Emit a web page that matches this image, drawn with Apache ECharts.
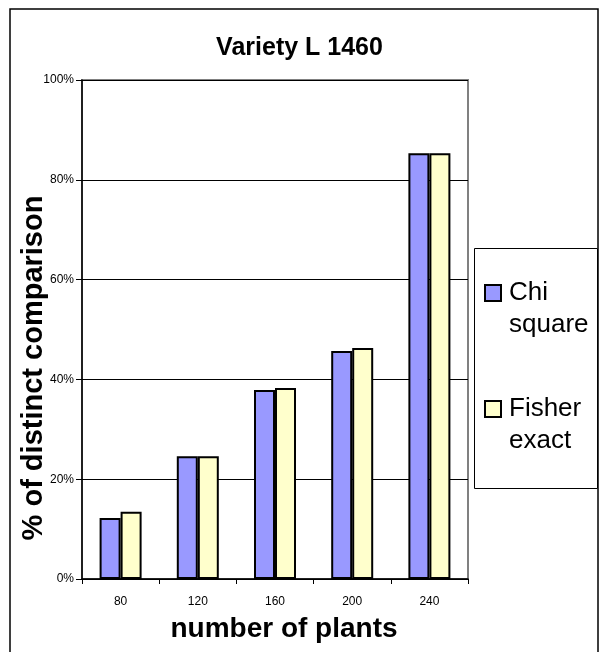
<!DOCTYPE html>
<html>
<head>
<meta charset="utf-8">
<script src="https://cdn.jsdelivr.net/npm/echarts@6/dist/echarts.min.js"></script>
<style>
  html, body { margin: 0; padding: 0; background: #fff; }
  #chart { width: 599px; height: 652px; }
</style>
</head>
<body>
<div id="chart"></div>
<script>
// Share of distinct comparisons (%) by number of plants
const categories = ['80', '120', '160', '200', '240'];
const chiSquare = [12.2, 24.6, 37.9, 45.7, 85.3];
const fisherExact = [13.5, 24.6, 38.3, 46.3, 85.3];
const seriesNames = ['Chi square', 'Fisher exact'];

const FONT = '"Liberation Sans", Arial, Helvetica, sans-serif';

const chart = echarts.init(document.getElementById('chart'), null, { renderer: 'canvas' });

chart.setOption({
  animation: false,
  backgroundColor: '#fff',
  textStyle: { fontFamily: FONT },
  title: {
    text: 'Variety L 1460',
    left: 'center',
    top: 36,
    padding: [0, 5, 0, 20],
    textStyle: { fontFamily: FONT, fontSize: 25, fontWeight: 'bold', color: '#000' }
  },
  graphic: [
    {
      // outer chart frame
      type: 'rect',
      shape: { x: 10, y: 9, width: 588, height: 660 },
      style: { fill: 'none', stroke: '#000', lineWidth: 1.5 },
      silent: true,
      z: -10
    },
    {
      // legend frame
      type: 'rect',
      shape: { x: 474.5, y: 248.5, width: 123, height: 240 },
      style: { fill: '#fff', stroke: '#000', lineWidth: 1 },
      silent: true,
      z: -5
    }
  ],
  legend: {
    orient: 'vertical',
    left: 484,
    top: 245,
    padding: 0,
    itemGap: 20,
    itemWidth: 16,
    itemHeight: 16,
    icon: 'rect',
    data: seriesNames,
    // leading blank line keeps the first word level with the swatch
    formatter: name => '\n' + name.replace(' ', '\n'),
    textStyle: {
      fontFamily: FONT,
      fontSize: 26,
      lineHeight: 32,
      color: '#000',
      padding: [0, 0, 0, 3],
      backgroundColor: 'rgba(0,0,0,0)'
    }
  },
  grid: {
    left: 82,
    right: 131,
    top: 80,
    bottom: 73,
    show: true,
    backgroundColor: '#fff',
    borderColor: '#808080',
    borderWidth: 2,
    outerBoundsMode: 'none'
  },
  xAxis: {
    type: 'category',
    data: categories,
    axisLine: { show: true, lineStyle: { color: '#000', width: 1.5 } },
    axisTick: { show: true, length: 5, lineStyle: { color: '#000', width: 1 } },
    axisLabel: { margin: 17, fontSize: 12, color: '#000', fontFamily: FONT },
    splitLine: { show: false },
    name: 'number of plants',
    nameLocation: 'middle',
    nameGap: 36,
    nameMoveOverlap: false,
    nameTextStyle: {
      fontFamily: FONT, fontSize: 28, fontWeight: 'bold', color: '#000',
      padding: [0, 0, 0, 18]
    }
  },
  yAxis: {
    type: 'value',
    min: 0,
    max: 100,
    interval: 20,
    axisLine: { show: true, lineStyle: { color: '#000', width: 1.5 } },
    axisTick: { show: true, length: 6, lineStyle: { color: '#000', width: 1 } },
    axisLabel: { formatter: '{value}%', margin: 8, fontSize: 12, color: '#000', fontFamily: FONT },
    splitLine: { show: true, lineStyle: { color: '#000', width: 1 } },
    name: '% of distinct comparison',
    nameLocation: 'middle',
    nameGap: 34,
    nameMoveOverlap: false,
    nameTextStyle: {
      fontFamily: FONT, fontSize: 29, fontWeight: 'bold', color: '#000',
      padding: [0, 77, 0, 0]
    }
  },
  series: [
    {
      name: seriesNames[0],
      type: 'bar',
      data: chiSquare,
      barWidth: 21,
      barGap: '0%',
      itemStyle: { color: '#9999FF', borderColor: '#000', borderWidth: 2 }
    },
    {
      name: seriesNames[1],
      type: 'bar',
      data: fisherExact,
      barWidth: 21,
      barGap: '0%',
      itemStyle: { color: '#FFFFCC', borderColor: '#000', borderWidth: 2 }
    }
  ]
});
</script>
</body>
</html>
